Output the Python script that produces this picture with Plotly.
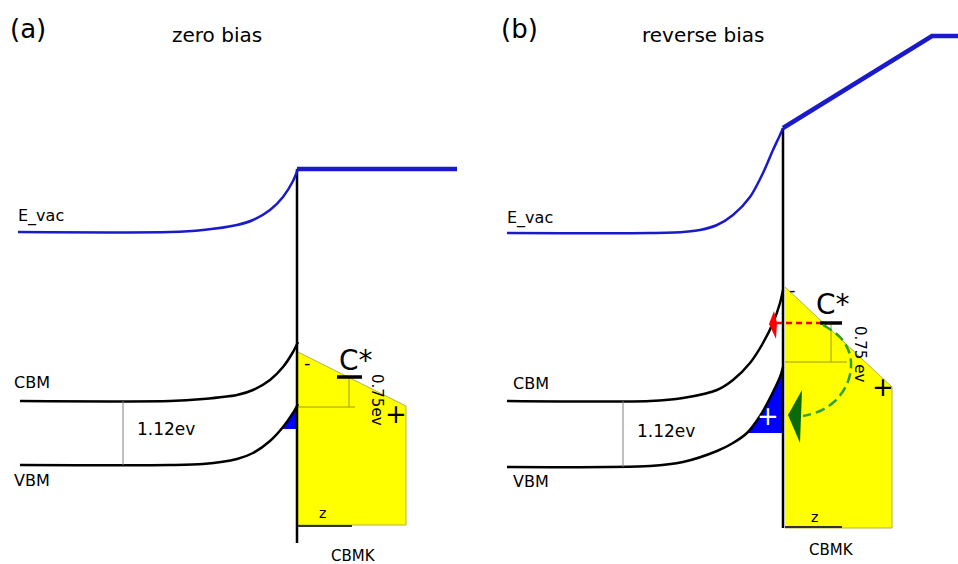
import plotly.graph_objects as go

# ---------- panel (a): zero bias (canvas pixel coordinates) ----------
a_evac_x = [18, 170, 203, 237, 253, 270, 283, 293, 298]
a_evac_y = [232, 232, 230, 225, 220, 210, 197, 181, 169]
a_evac_r_x = [297, 457]
a_evac_r_y = [169, 169]
a_cbm_x = [20, 170, 203, 237, 253, 270, 283, 293, 298]
a_cbm_y = [401, 401, 399, 395, 390, 380, 367, 352, 342]
a_vbm_x = [20, 170, 203, 237, 253, 270, 283, 293, 298]
a_vbm_y = [465, 465, 464, 459, 453, 441, 427, 413, 404]
a_blue_x = [281, 283, 293, 297, 297]
a_blue_y = [429, 427, 413, 405, 429]
a_yellow_x = [298, 406, 406, 298]
a_yellow_y = [352, 406, 525, 525]
a_wall_x = [297, 297]
a_wall_y = [169, 543]

# ---------- panel (b): reverse bias ----------
b_evac_x = [507, 650, 683, 700, 717, 733, 750, 763, 773, 780, 783]
b_evac_y = [233, 233, 232, 230, 225, 215, 197, 173, 150, 135, 128]
b_evac_r_x = [783, 932, 958]
b_evac_r_y = [128, 36, 36]
b_cbm_x = [507, 650, 683, 717, 733, 750, 763, 773, 780, 783]
b_cbm_y = [401, 401, 398, 390, 380, 363, 343, 323, 303, 290]
b_vbm_x = [507, 650, 683, 717, 733, 747, 760, 770, 780, 783]
b_vbm_y = [467, 466, 462, 451, 443, 433, 416, 398, 377, 367]
b_blue_x = [747, 760, 770, 780, 783, 783]
b_blue_y = [433, 416, 398, 377, 367, 433]
b_yellow_x = [785, 892, 892, 785]
b_yellow_y = [287, 387, 528, 528]
b_wall_x = [783, 783]
b_wall_y = [128, 528]
b_green_arc_x = [823, 840, 849, 851, 846, 835, 820, 803]
b_green_arc_y = [325, 337, 352, 368, 386, 401, 411, 416]
b_green_head_x = [788, 802, 800]
b_green_head_y = [415, 390, 443]
b_red_x = [776, 820]
b_red_y = [323, 323]
b_red_head_x = [769, 774, 777, 776]
b_red_head_y = [324, 311, 323, 339]

# helper lines: gap marker, trap level, trap depth guides, z-scale
a_gap_x = [123, 123]; a_gap_y = [401, 465]
b_gap_x = [623, 623]; b_gap_y = [401, 467]
a_trap_x = [337, 362]; a_trap_y = [377, 377]
b_trap_x = [820, 842]; b_trap_y = [323, 323]
a_guide_x = [298, 355, None, 349, 349]; a_guide_y = [407, 407, None, 377, 407]
b_guide_x = [785, 847, None, 831, 831]; b_guide_y = [362, 362, None, 324, 362]
a_z_x = [298, 352]; a_z_y = [526, 526]
b_z_x = [785, 842]; b_z_y = [527, 527]

BLACK = "black"
EBLUE = "#1a1acc"
fig = go.Figure()


def line(x, y, color, width, dash="solid", shape="linear", smoothing=1.0):
    ln = dict(color=color, width=width, dash=dash, shape=shape)
    if shape == "spline":
        ln["smoothing"] = smoothing
    fig.add_trace(go.Scatter(x=x, y=y, mode="lines", line=ln,
                             hoverinfo="skip", showlegend=False))


def poly(x, y, fill, edge=None, ew=0):
    fig.add_trace(go.Scatter(x=x, y=y, mode="lines", fill="toself", fillcolor=fill,
                             line=dict(color=edge or fill, width=ew),
                             hoverinfo="skip", showlegend=False))


# yellow regions
poly(a_yellow_x, a_yellow_y, "#ffff00", "#b8b040", 1)
poly(b_yellow_x, b_yellow_y, "#ffff00", "#b8b040", 1)
line(a_guide_x, a_guide_y, "#9a9a10", 1)
line(b_guide_x, b_guide_y, "#9a9a10", 1)
# blue hole regions
poly(a_blue_x, a_blue_y, "#0000ff")
poly(b_blue_x, b_blue_y, "#0000ff")
# interface walls
line(a_wall_x, a_wall_y, BLACK, 2.5)
line(b_wall_x, b_wall_y, BLACK, 2.5)
# bands
for xs, ys in [(a_cbm_x, a_cbm_y), (a_vbm_x, a_vbm_y), (b_cbm_x, b_cbm_y), (b_vbm_x, b_vbm_y)]:
    line(xs, ys, BLACK, 2.5, shape="spline", smoothing=0.8)
# vacuum level
line(a_evac_x, a_evac_y, EBLUE, 2.5, shape="spline", smoothing=0.8)
line(b_evac_x, b_evac_y, EBLUE, 2.5, shape="spline", smoothing=0.8)
line(a_evac_r_x, a_evac_r_y, EBLUE, 4.5)
line(b_evac_r_x, b_evac_r_y, EBLUE, 4.5)
# gap markers
line(a_gap_x, a_gap_y, "#808080", 1)
line(b_gap_x, b_gap_y, "#808080", 1)
# trap levels
line(a_trap_x, a_trap_y, BLACK, 3.5)
line(b_trap_x, b_trap_y, BLACK, 3.5)
# z scale
line(a_z_x, a_z_y, "#333333", 2)
line(b_z_x, b_z_y, "#333333", 2)
# arrows in (b)
line(b_red_x, b_red_y, "#ff0000", 2.5, dash="6px,4px")
poly(b_red_head_x, b_red_head_y, "#ff0000")
line(b_green_arc_x, b_green_arc_y, "#2ea02e", 2.5, dash="10px,5px", shape="spline")
poly(b_green_head_x, b_green_head_y, "#0b6b0b")

FONT = "DejaVu Sans"


def text(t, x, y, size, color="black", angle=0, xanchor="center"):
    fig.add_annotation(x=x, y=y, text=t, showarrow=False, textangle=angle,
                       xanchor=xanchor, yanchor="middle",
                       font=dict(family=FONT, size=size, color=color))


text("(a)", 8, 29, 26, xanchor="left")
text("zero bias", 217, 35, 20)
text("(b)", 499, 29, 26, xanchor="left")
text("reverse bias", 703, 35, 20)

text("E_vac", 16, 216, 16, xanchor="left")
text("E_vac", 505, 218, 16, xanchor="left")
text("CBM", 12, 382, 16, xanchor="left")
text("VBM", 12, 480, 16, xanchor="left")
text("CBM", 511, 383, 16, xanchor="left")
text("VBM", 511, 481, 16, xanchor="left")
text("1.12ev", 166, 429, 17)
text("1.12ev", 666, 431, 17)

text("C*", 356, 360, 28)
text("C*", 833, 304, 28)
text("0.75ev", 377, 400, 15, angle=90)
text("0.75 ev", 860, 354, 15, angle=90)
text("-", 307, 362, 18)
text("-", 792, 289, 18)
text("+", 396, 414, 26)
text("+", 883, 387, 26)
text("+", 768, 416, 26, color="white")
text("z", 322, 513, 14)
text("z", 814, 517, 14)
text("CBMK", 353, 556, 15)
text("CBMK", 831, 550, 15)

fig.update_layout(
    width=958, height=564, autosize=False,
    margin=dict(l=0, r=0, t=0, b=0, pad=0),
    paper_bgcolor="white", plot_bgcolor="white",
    xaxis=dict(range=[0, 958], visible=False, fixedrange=True),
    yaxis=dict(range=[564, 0], visible=False, fixedrange=True),
    showlegend=False,
)

fig.write_html("out.html", config={"displayModeBar": False, "staticPlot": True},
               post_script="document.body.style.margin='0';document.body.style.overflow='hidden';")
